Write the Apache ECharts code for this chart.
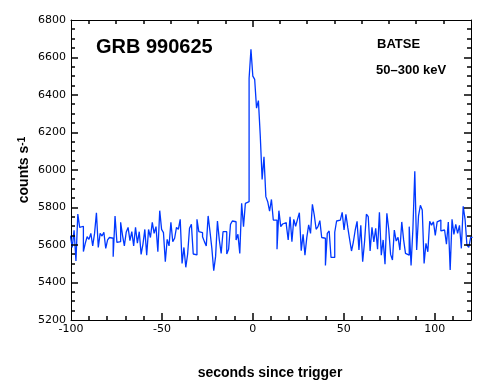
<!DOCTYPE html>
<html>
<head>
<meta charset="utf-8">
<script src="https://cdn.jsdelivr.net/npm/echarts@6/dist/echarts.min.js"></script>
<style>
  html, body { margin: 0; padding: 0; background: #fff; }
  #chart { width: 490px; height: 390px; }
</style>
</head>
<body>
<div id="chart"></div>
<script>
// Bin width (s) and index of first bin (bin k spans k*binWidth .. (k+1)*binWidth)
const binWidth = 1.024;
const firstBin = -98;

// Counts per bin before the trigger (bins -98 .. -1)
const preTrigger = [
  5650, 5587, 5678, 5515, 5765, 5694, 5700, 5565, 5609, 5644,
  5630, 5662, 5595, 5662, 5772, 5587, 5662, 5648, 5668, 5582,
  5627, 5640, 5636, 5538, 5755, 5614, 5618, 5721, 5653, 5595,
  5668, 5694, 5623, 5671, 5595, 5694, 5610, 5671, 5550, 5605,
  5683, 5546, 5683,
  5640, 5721, 5662, 5698, 5564, 5783, 5683, 5666, 5511, 5630,
  5595, 5721, 5618, 5636, 5694, 5683, 5737, 5502, 5587, 5481,
  5552, 5689, 5710, 5552, 5547, 5737, 5671, 5666, 5644, 5618,
  5595, 5755, 5671, 5582, 5463, 5538, 5728, 5627, 5555, 5671,
  5671, 5552, 5577, 5710, 5728,
  5724, 5627, 5657, 5555, 5822, 5698, 5822, 5831, 6489, 6644
];

// Counts per bin after the trigger (bins 0 .. 117)
const postTrigger = [
  6501, 6483, 6330, 6370, 6183, 5950, 6071, 5858, 5831, 5780,
  5843, 5733, 5733, 5577, 5783, 5698, 5712, 5719, 5707, 5627,
  5751, 5618, 5737, 5700, 5737, 5772, 5570, 5657, 5546, 5641,
  5707, 5662, 5817, 5760, 5684, 5698, 5730, 5640, 5636, 5491,
  5662, 5675, 5534, 5534, 5668, 5728, 5733, 5723, 5774, 5680,
  5764, 5694, 5630, 5568, 5616, 5680, 5726, 5573, 5705, 5511,
  5616, 5764, 5751, 5568, 5694, 5616, 5689, 5577, 5774, 5546,
  5627, 5497, 5769, 5684, 5550, 5520, 5680, 5621, 5641, 5573,
  5723, 5627, 5555, 5546, 5698, 5491, 5689, 5993, 5573, 5755,
  5812, 5787, 5502, 5609, 5564, 5726, 5706, 5724, 5651, 5723,
  5733, 5675, 5680, 5690, 5604, 5723, 5467, 5737, 5657, 5710,
  5662, 5705, 5582, 5806, 5737, 5600, 5587, 5641
];

// Axis ranges / ticks
const xMin = -100, xMax = 120, xInterval = 50, xMinorStep = 10;
const yMin = 5200, yMax = 6800, yInterval = 200, yMinorStep = 50;
const topTickStep = 15;
const topMajorTicks = [0];

// Texts
const titleText = 'GRB 990625';
const instrumentText = 'BATSE';
const bandText = '50\u2013300 keV';
const xName = 'seconds since trigger';

const counts = preTrigger.concat(postTrigger);
const lineData = counts.map((v, i) => [(firstBin + i) * binWidth, v]);
lineData.push([(firstBin + counts.length) * binWidth, counts[counts.length - 1]]);

// Tick marks drawn inside the frame: [x, y, side(0 bottom,1 top,2 left,3 right), length]
const MAJOR = 7, MINOR = 4;
const tickData = [];
for (let v = xMin + xMinorStep; v < xMax; v += xMinorStep) {
  tickData.push([v, yMin, 0, (v % xInterval === 0) ? MAJOR : MINOR]);
}
for (let v = Math.ceil(xMin / topTickStep) * topTickStep; v < xMax; v += topTickStep) {
  tickData.push([v, yMax, 1, topMajorTicks.indexOf(v) >= 0 ? MAJOR : MINOR]);
}
for (let v = yMin + yMinorStep; v < yMax; v += yMinorStep) {
  const len = (v % yInterval === 0) ? MAJOR : MINOR;
  tickData.push([xMin, v, 2, len]);
  tickData.push([xMax, v, 3, len]);
}

const black = '#000';
const lineColor = '#0038ff';
const plainNum = v => String(v);

const chart = echarts.init(document.getElementById('chart'));

function frameAxis(extra) {
  return Object.assign({
    type: 'value',
    splitLine: { show: false },
    axisLine: { show: true, onZero: false, lineStyle: { color: black, width: 1 } },
    axisTick: { show: false },
    minorTick: { show: false }
  }, extra);
}

function renderTick(params, api) {
  const x = api.value(0), y = api.value(1), side = api.value(2), len = api.value(3);
  const p = api.coord([x, y]);
  let x1, y1, x2, y2;
  if (side === 0 || side === 1) {
    x1 = x2 = Math.round(p[0]);
    y1 = p[1];
    y2 = side === 0 ? p[1] - len : p[1] + len;
  } else {
    y1 = y2 = Math.round(p[1]);
    x1 = p[0];
    x2 = side === 2 ? p[0] + len : p[0] - len;
  }
  return { type: 'line', shape: { x1: x1, y1: y1, x2: x2, y2: y2 },
    style: { stroke: black, lineWidth: 1.5, opacity: 1 } };
}

chart.setOption({
  animation: false,
  grid: { left: 71, right: 19, top: 20, bottom: 70 },
  xAxis: [
    frameAxis({ min: xMin, max: xMax, interval: xInterval,
      axisLabel: { color: black, fontFamily: 'DejaVu Sans', fontSize: 11, margin: 4,
        showMaxLabel: false, formatter: plainNum } }),
    frameAxis({ position: 'top', min: xMin, max: xMax, axisLabel: { show: false } })
  ],
  yAxis: [
    frameAxis({ min: yMin, max: yMax, interval: yInterval,
      axisLabel: { color: black, fontFamily: 'DejaVu Sans', fontSize: 11, margin: 5, formatter: plainNum } }),
    frameAxis({ position: 'right', min: yMin, max: yMax, interval: yInterval, axisLabel: { show: false } })
  ],
  series: [
    {
      type: 'line',
      xAxisIndex: 0, yAxisIndex: 0,
      step: 'end',
      data: lineData,
      showSymbol: false,
      symbol: 'none',
      lineStyle: { color: lineColor, width: 1.3 },
      z: 2
    },
    {
      type: 'custom',
      xAxisIndex: 0, yAxisIndex: 0,
      data: tickData,
      renderItem: renderTick,
      clip: false,
      silent: true,
      z: 3
    }
  ],
  graphic: [
    { type: 'text', x: 96, y: 47, style: { text: titleText, fill: black,
      font: 'bold 20px "Liberation Sans", Arial, sans-serif', align: 'left', verticalAlign: 'middle' } },
    { type: 'text', x: 377, y: 44, style: { text: instrumentText, fill: black,
      font: 'bold 13px "Liberation Sans", Arial, sans-serif', align: 'left', verticalAlign: 'middle' } },
    { type: 'text', x: 376, y: 70, style: { text: bandText, fill: black,
      font: 'bold 13px "Liberation Sans", Arial, sans-serif', align: 'left', verticalAlign: 'middle' } },
    { type: 'text', x: 270, y: 373, style: { text: xName, fill: black,
      font: 'bold 14px "Liberation Sans", Arial, sans-serif', align: 'center', verticalAlign: 'middle' } },
    { type: 'text', x: 24, y: 170, rotation: Math.PI / 2,
      style: {
        text: '{a|counts s}{b|-1}',
        align: 'center', verticalAlign: 'middle',
        rich: {
          a: { fontFamily: '"Liberation Sans", Arial, sans-serif', fontWeight: 'bold', fontSize: 14, fill: black },
          b: { fontFamily: '"Liberation Sans", Arial, sans-serif', fontWeight: 'bold', fontSize: 10, fill: black, verticalAlign: 'top' }
        }
      } }
  ]
});
</script>
</body>
</html>
